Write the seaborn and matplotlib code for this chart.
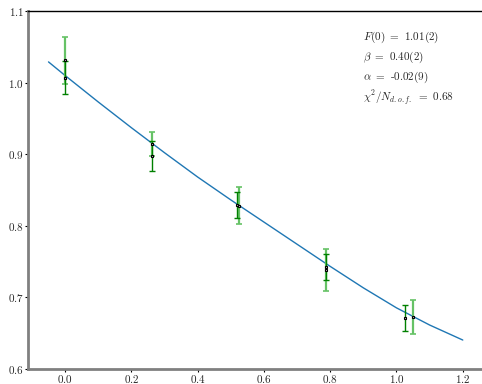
import matplotlib
matplotlib.use("Agg")
import matplotlib.pyplot as plt
import seaborn as sns
import numpy as np
import pandas as pd

# fit curve
curve_x = [-0.05, 0.0, 0.1, 0.2, 0.3, 0.4, 0.5, 0.6, 0.7, 0.8, 0.9, 1.0, 1.1, 1.2]
curve_y = [1.029, 1.010, 0.973, 0.937, 0.902, 0.868, 0.836, 0.805, 0.774, 0.743, 0.713, 0.685, 0.661, 0.640]

# data set 1 (dark green error bars)
x1 = [0.0, 0.262, 0.519, 0.786, 1.027]
y1 = [1.007, 0.897, 0.829, 0.742, 0.671]
e1 = [0.023, 0.021, 0.018, 0.018, 0.018]

# data set 2 (light green error bars)
x2 = [0.0, 0.262, 0.524, 0.786, 1.049]
y2 = [1.031, 0.914, 0.828, 0.738, 0.672]
e2 = [0.033, 0.017, 0.026, 0.030, 0.024]

labels = [r"$F(0)$ $=$ 1.01(2)", r"$\beta$ $=$ 0.40(2)", r"$\alpha$ $=$ -0.02(9)", r"$\chi^2/N_{d.o.f.}$ $=$ 0.68"]

sns.set_style("ticks")
plt.rcParams["font.family"] = "serif"
plt.rcParams["font.serif"] = ["cmr10", "DejaVu Serif"]
plt.rcParams["mathtext.fontset"] = "cm"
plt.rcParams["axes.formatter.use_mathtext"] = True

fig = plt.figure(figsize=(4.82, 3.84), dpi=100)
ax = fig.add_axes([0.058, 0.040, 0.942, 0.931])

sns.lineplot(x=curve_x, y=curve_y, ax=ax, color="#1f77b4", linewidth=1.0)

ax.errorbar(x2, y2, yerr=e2, fmt="none", ecolor="#66c266", elinewidth=1.6, capsize=2.0, capthick=1.2, zorder=3)
ax.errorbar(x1, y1, yerr=e1, fmt="none", ecolor="green", elinewidth=1.0, capsize=2.0, capthick=1.0, zorder=4)
ax.plot(x1, y1, linestyle="none", marker="s", ms=1.8, mfc="#cccccc", mec="black", mew=0.8, zorder=5)
ax.plot(x2, y2, linestyle="none", marker="s", ms=1.8, mfc="#cccccc", mec="black", mew=0.8, zorder=5)

ax.set_xlim(-0.112, 1.258)
ax.set_ylim(0.6, 1.1)
ax.set_xticks([0.0, 0.2, 0.4, 0.6, 0.8, 1.0, 1.2])
ax.set_yticks([0.6, 0.7, 0.8, 0.9, 1.0, 1.1])
ax.tick_params(labelsize=8, length=2.0, width=0.8, color="black", pad=1.0)

for s in ["left", "bottom"]:
    ax.spines[s].set_color("#808080")
    ax.spines[s].set_linewidth(2.0)
ax.spines["top"].set_visible(True)
ax.spines["top"].set_color("black")
ax.spines["top"].set_linewidth(1.0)
ax.spines["right"].set_visible(False)

for i, t in enumerate(labels):
    ax.text(0.899, 1.064 - i * 0.0285, t, fontsize=8, va="center", ha="left")

fig.savefig("out.png", dpi=100)
